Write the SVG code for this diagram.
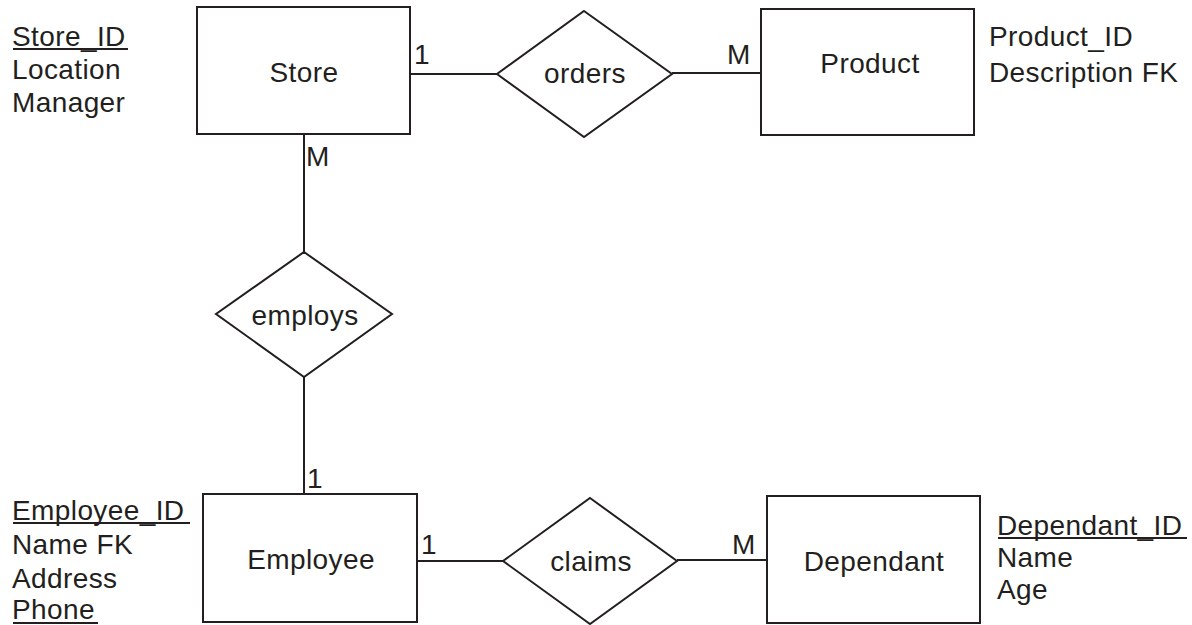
<svg xmlns="http://www.w3.org/2000/svg" width="1192" height="625" viewBox="0 0 1192 625">
<style>
text{font-family:"Liberation Sans",Arial,sans-serif;font-size:28px;letter-spacing:0.4px;fill:#231f20}
.c{text-anchor:middle}
.shape{fill:#fff;stroke:#231f20;stroke-width:2}
.ln{stroke:#231f20;stroke-width:2;fill:none}
.ul{stroke:#231f20;stroke-width:2}
</style>
<rect width="1192" height="625" fill="#fff"/>
<g id="connectors">
<line class="ln" x1="410" y1="74" x2="497" y2="74"/>
<line class="ln" x1="672" y1="73" x2="761" y2="73"/>
<line class="ln" x1="304" y1="134" x2="304" y2="252"/>
<line class="ln" x1="304" y1="377" x2="304" y2="494"/>
<line class="ln" x1="417" y1="561" x2="503" y2="561"/>
<line class="ln" x1="677" y1="560" x2="767" y2="560"/>
<text x="414" y="64">1</text>
<text x="727" y="64">M</text>
<text x="306" y="166">M</text>
<text x="307" y="488">1</text>
<text x="421" y="554">1</text>
<text x="732" y="554">M</text>
</g>
<g id="store">
<rect class="shape" x="197" y="7" width="213" height="127"/>
<text class="c" x="304" y="82">Store</text>
</g>
<g id="store-attrs">
<text x="12" y="46">Store_ID</text>
<line class="ul" x1="13" y1="49" x2="128" y2="49"/>
<text x="12" y="79">Location</text>
<text x="12" y="112">Manager</text>
</g>
<g id="orders">
<polygon class="shape" points="584,11 672,74 584,137 497,74"/>
<text class="c" x="585" y="83">orders</text>
</g>
<g id="product">
<rect class="shape" x="761" y="9" width="213" height="126"/>
<text class="c" x="870" y="73">Product</text>
</g>
<g id="product-attrs">
<text x="989" y="46">Product_ID</text>
<text x="989" y="82">Description FK</text>
</g>
<g id="employs">
<polygon class="shape" points="304,252 392,314 304,377 216,314"/>
<text class="c" x="305" y="325">employs</text>
</g>
<g id="employee">
<rect class="shape" x="203" y="494" width="214" height="128"/>
<text class="c" x="311" y="569">Employee</text>
</g>
<g id="employee-attrs">
<text x="12" y="520">Employee_ID</text>
<line class="ul" x1="13" y1="523" x2="190" y2="523"/>
<text x="12" y="554">Name FK</text>
<text x="12" y="588">Address</text>
<text x="12" y="619">Phone</text>
<line class="ul" x1="13" y1="623" x2="98" y2="623"/>
</g>
<g id="claims">
<polygon class="shape" points="590,498 677,561 590,624 503,561"/>
<text class="c" x="591" y="571">claims</text>
</g>
<g id="dependant">
<rect class="shape" x="767" y="496" width="213" height="127"/>
<text class="c" x="874" y="571">Dependant</text>
</g>
<g id="dependant-attrs">
<text x="997" y="535">Dependant_ID</text>
<line class="ul" x1="998" y1="538" x2="1187" y2="538"/>
<text x="997" y="567">Name</text>
<text x="997" y="599">Age</text>
</g>
</svg>
